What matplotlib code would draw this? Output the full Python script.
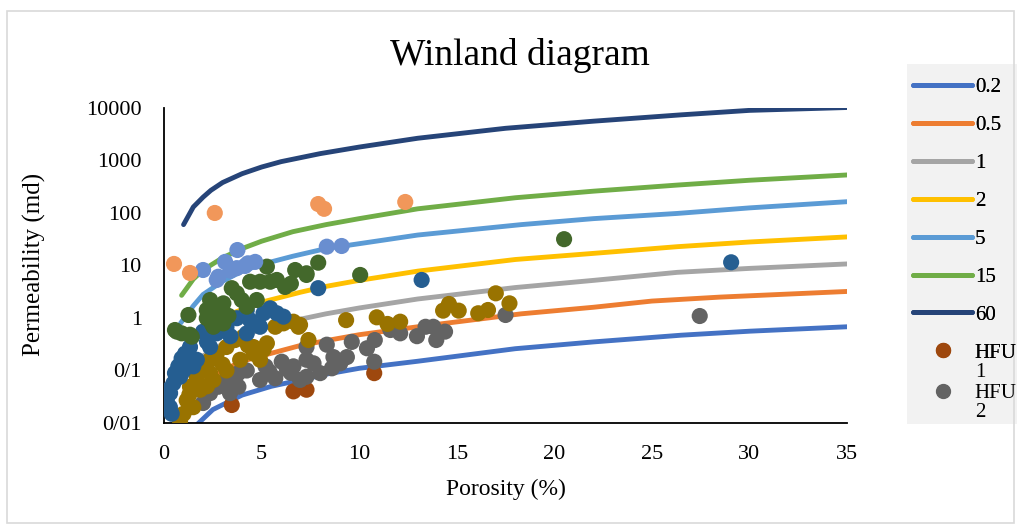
import matplotlib.pyplot as plt
from matplotlib.lines import Line2D
from matplotlib.patches import Rectangle

plt.rcParams['font.family'] = ['Liberation Serif', 'DejaVu Serif']

# Winland r35 curves (pore throat radius in micron)
phi_r02 = [1.5, 2.5, 4, 5.5, 7, 8.3, 10, 13, 18, 22, 26.5, 30, 35]
k_r02 = [0.008, 0.018, 0.034, 0.05, 0.066, 0.085, 0.11, 0.15, 0.26, 0.35, 0.47, 0.56, 0.68]

phi_r05 = [1, 2, 3, 4, 5, 7, 8.3, 10, 13, 18.3, 22, 25, 28.5, 35]
k_r05 = [0.02, 0.06, 0.1, 0.15, 0.19, 0.3, 0.37, 0.48, 0.68, 1.2, 1.6, 2.1, 2.5, 3.2]

phi_r1 = [1, 2, 3, 5, 7, 8.3, 10, 13, 18, 22, 26.3, 30, 35]
k_r1 = [0.065, 0.19, 0.32, 0.62, 0.95, 1.2, 1.55, 2.3, 3.8, 5.2, 7.4, 8.8, 10.7]

phi_r2 = [1, 2, 3, 5, 7, 8.3, 10, 13, 18, 22, 26.3, 30, 35]
k_r2 = [0.2, 0.6, 1.05, 2.0, 3.1, 4.0, 5.2, 7.8, 13, 17, 22.8, 28, 35]

phi_r5 = [0.85, 1.5, 2, 3, 4, 5, 6.6, 8.3, 10, 13, 18.3, 22, 26.3, 30, 35]
k_r5 = [0.8, 1.7, 2.8, 5, 7.8, 10.5, 15, 21, 26, 38, 60, 78, 98, 125, 164]

phi_r15 = [0.9, 1.5, 2, 3, 4, 5, 6.6, 8.3, 10, 13, 18, 22, 26.3, 30, 35]
k_r15 = [2.7, 5.5, 8.2, 14, 21, 29, 44, 60, 78, 120, 195, 260, 340, 420, 530]

phi_r60 = [1, 1.5, 2, 2.4, 3, 4, 5, 6, 8, 10, 13, 17.5, 22, 26.5, 30, 35]
k_r60 = [60, 130, 200, 270, 380, 560, 750, 950, 1350, 1800, 2650, 4100, 5600, 7400, 9000, 10200]

# hydraulic flow units (porosity %, permeability md)
phi_hfu1 = [3.47, 6.63, 7.3, 7.0, 10.77]
k_hfu1 = [0.022, 0.040, 0.043, 0.049, 0.089]

phi_hfu2 = [2.0, 2.36, 2.78, 3.2, 3.81, 4.24, 3.81, 3.38, 4.92, 5.7, 6.03, 5.4, 6.63, 6.97,
            7.3, 7.66, 7.3, 8.0, 8.34, 8.68, 7.3, 6.29, 9.03, 9.37, 9.62, 10.4, 10.8, 10.77,
            11.6, 12.1, 12.96, 13.4, 13.8, 13.95, 14.4, 17.5, 27.45, 3.55, 2.9, 5.2, 6.5, 8.6]
k_hfu2 = [0.024, 0.037, 0.049, 0.066, 0.089, 0.10, 0.049, 0.037, 0.066, 0.071, 0.147, 0.095,
          0.12, 0.066, 0.076, 0.137, 0.28, 0.089, 0.31, 0.18, 0.16, 0.106, 0.137, 0.18, 0.35,
          0.265, 0.38, 0.147, 0.59, 0.51, 0.45, 0.68, 0.68, 0.38, 0.55, 1.14, 1.09, 0.049,
          0.055, 0.12, 0.09, 0.11]

phi_hfu3 = [0.82, 1.0, 1.16, 1.5, 1.33, 1.68, 1.85, 2.0, 2.36, 2.36, 2.53, 2.7, 3.2, 3.2,
            3.64, 3.9, 4.07, 4.58, 4.92, 4.58, 5.1, 5.27, 5.7, 6.12, 6.63, 6.89, 7.4, 6.97,
            9.33, 10.9, 11.45, 12.1, 14.3, 14.6, 15.1, 16.1, 16.6, 17.0, 17.7, 1.3, 2.2, 3.0, 4.3]
k_hfu3 = [0.011, 0.015, 0.027, 0.02, 0.049, 0.076, 0.043, 0.12, 0.16, 0.089, 0.066, 0.21,
          0.28, 0.10, 0.38, 0.16, 0.44, 0.21, 0.16, 0.28, 0.25, 0.33, 0.68, 0.79, 0.85, 0.68,
          0.38, 0.74, 0.91, 1.03, 0.77, 0.85, 1.38, 1.85, 1.38, 1.23, 1.42, 2.95, 1.9, 0.035,
          0.05, 0.13, 0.3]

phi_hfu4 = [0.39, 0.31, 0.48, 0.73, 1.08, 1.33, 1.68, 1.42, 2.0, 2.36, 2.7, 3.2, 3.73, 4.24,
            4.41, 5.1, 5.44, 5.78, 6.12, 4.92, 4.24, 7.9, 0.14, 0.56, 0.82, 1.5, 0.22, 13.2,
            29.06, 0.3, 1.0, 2.2, 3.4, 0.9]
k_hfu4 = [0.015, 0.037, 0.057, 0.12, 0.21, 0.28, 0.16, 0.44, 0.55, 0.28, 0.51, 0.68, 0.99,
          0.51, 0.91, 1.23, 1.53, 1.23, 1.06, 0.68, 1.42, 3.7, 0.027, 0.089, 0.076, 0.12,
          0.043, 5.3, 11.5, 0.02, 0.1, 0.35, 0.45, 0.17]

phi_hfu5 = [0.56, 0.9, 1.33, 1.25, 2.36, 2.19, 2.6, 3.04, 3.47, 3.73, 3.98, 4.24, 4.41, 4.75,
            4.92, 5.27, 5.44, 5.78, 6.2, 6.72, 7.3, 7.9, 2.53, 7.3, 10.05, 20.5, 0.65, 1.42,
            2.19, 2.44, 3.04, 6.5, 3.3, 2.8]
k_hfu5 = [0.59, 0.51, 0.48, 1.14, 2.2, 0.99, 1.23, 1.9, 3.7, 2.95, 2.2, 1.64, 4.9, 2.2, 4.9,
          9.5, 4.9, 5.3, 3.9, 8.2, 7.1, 11.3, 0.68, 6.6, 6.6, 31.7, 0.55, 0.44, 1.42, 0.79,
          0.79, 4.5, 1.1, 1.6]

phi_hfu6 = [2.0, 3.76, 3.13, 2.78, 3.73, 4.15, 4.67, 8.34, 9.1, 3.4, 4.3, 2.7]
k_hfu6 = [8.2, 19.7, 11.7, 6.1, 8.9, 9.8, 11.7, 22.8, 23.5, 8.0, 11.0, 5.3]

phi_hfu7 = [0.51, 1.33, 2.6, 7.9, 8.2, 12.36]
k_hfu7 = [10.7, 7.2, 100, 148, 120, 162]

curves = [
    ('0.2', phi_r02, k_r02, '#4472C4'),
    ('0.5', phi_r05, k_r05, '#ED7D31'),
    ('1', phi_r1, k_r1, '#A5A5A5'),
    ('2', phi_r2, k_r2, '#FFC000'),
    ('5', phi_r5, k_r5, '#5B9BD5'),
    ('15', phi_r15, k_r15, '#70AD47'),
    ('60', phi_r60, k_r60, '#264478'),
]
hfus = [
    ('1', phi_hfu1, k_hfu1, '#9E480E'),
    ('2', phi_hfu2, k_hfu2, '#636363'),
    ('3', phi_hfu3, k_hfu3, '#997300'),
    ('4', phi_hfu4, k_hfu4, '#255E91'),
    ('5', phi_hfu5, k_hfu5, '#43682B'),
    ('6', phi_hfu6, k_hfu6, '#698ED0'),
    ('7', phi_hfu7, k_hfu7, '#F1975A'),
]

fig = plt.figure(figsize=(10.17, 5.29), dpi=100)
# chart border and legend background (Excel style)
fig.patches.append(Rectangle((0.007, 0.012), 0.99, 0.968, transform=fig.transFigure,
                             fill=False, edgecolor='#D9D9D9', linewidth=1.2))
fig.patches.append(Rectangle((907 / 1017, 1 - 424 / 529), 110 / 1017, 360 / 529,
                             transform=fig.transFigure, facecolor='#F2F2F2',
                             edgecolor='none', zorder=0))
ax = fig.add_axes([0.1613, 0.2004, 0.6716, 0.5955])

handles = []
for name, x, y, c in curves:
    h, = ax.plot(x, y, color=c, lw=3.5, solid_capstyle='round', label=name, zorder=2)
    handles.append(h)
hfu_handles = []
for i, (num, x, y, c) in enumerate(hfus):
    ax.scatter(x, y, s=135, color=c, edgecolors='none', zorder=3 + i)
    if i < 2:
        hfu_handles.append(Line2D([], [], ls='none', marker='o', ms=10, color=c, label='HFU'))

ax.set_yscale('log')
ax.set_xlim(0, 35)
ax.set_ylim(0.01, 10000)
ax.set_xticks(range(0, 36, 5))
ax.set_yticks([0.01, 0.1, 1, 10, 100, 1000, 10000])
ax.set_yticklabels(['0/01', '0/1', '1', '10', '100', '1000', '10000'])
ax.minorticks_off()
ax.tick_params(axis='both', length=0, labelsize=16)
ax.tick_params(axis='y', pad=16)
ax.tick_params(axis='x', pad=16)
for s in ['top', 'right']:
    ax.spines[s].set_visible(False)
for s in ['left', 'bottom']:
    ax.spines[s].set_linewidth(1.3)

fig.text(0.511, 0.896, 'Winland diagram', ha='center', va='center', fontsize=27)
fig.text(0.497, 0.074, 'Porosity (%)', ha='center', va='center', fontsize=17)
fig.text(0.034, 0.5, 'Permeability (md)', ha='center', va='center', rotation=90, fontsize=18)

leg_kw = dict(loc='upper left', frameon=False, fontsize=15, handlelength=2.8,
              handletextpad=0.15, labelspacing=0.88, borderaxespad=0, borderpad=0.3)
leg_x = 0.892
leg = fig.legend(handles=handles + hfu_handles[:1], bbox_to_anchor=(leg_x, 0.865), **leg_kw)
fig.add_artist(leg)

# "HFU 1" / "HFU 2" wrap onto a second line in the original legend
inv = fig.transFigure.inverted()
fig.canvas.draw()
bb = leg.get_texts()[-1].get_window_extent().transformed(inv)
t1 = fig.text(bb.x0, bb.y0, hfus[0][0], ha='left', va='top', fontsize=15)
fig.canvas.draw()
bb1 = t1.get_window_extent().transformed(inv)
leg2 = fig.legend(handles=hfu_handles[1:], bbox_to_anchor=(leg_x, bb1.y0 + 0.008), **leg_kw)
fig.canvas.draw()
bb2 = leg2.get_texts()[0].get_window_extent().transformed(inv)
fig.text(bb2.x0, bb2.y0, hfus[1][0], ha='left', va='top', fontsize=15)

fig.savefig('out.png', dpi=100)
